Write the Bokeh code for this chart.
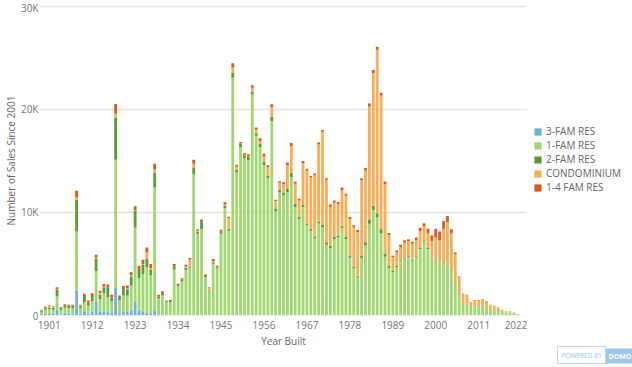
from bokeh.plotting import figure
from bokeh.layouts import row
from bokeh.models import (Range1d, FixedTicker, Legend, LegendItem, Label,
                          ColumnDataSource)
from bokeh.embed import file_html
from bokeh.resources import INLINE

# ---------------- data (sales counts in thousands) ----------------
years = list(range(1899, 2024))

fam3_res = [
    0.12, 0.15, 0.15, 0.15, 0.55, 0.10, 0.30, 0.20, 0.20, 2.40,
    0.20, 0.40, 0.20, 0.35, 1.30, 0.40, 0.45, 0.40, 0.30, 2.70,
    0.30, 0.35, 0.35, 0.50, 1.30, 0.50, 0.40, 0.30, 0.20, 0.50,
    0.05, 0.05, 0.02, 0.02, 0.05, 0.02, 0.02, 0.02, 0.02, 0.10,
    0.02, 0.05, 0.02, 0.02, 0.02, 0.02, 0.02, 0.02, 0.02, 0.05,
    0.02, 0.02, 0.02, 0.02, 0.02, 0.02, 0.02, 0.02, 0.02, 0.02,
    0.02, 0.02, 0.02, 0.02, 0.02, 0.02, 0.02, 0.02, 0.02, 0.02,
    0.02, 0.02, 0.02, 0.00, 0.00, 0.00, 0.00, 0.00, 0.00, 0.00,
    0.00, 0.00, 0.00, 0.00, 0.00, 0.00, 0.00, 0.00, 0.00, 0.00,
    0.00, 0.00, 0.00, 0.00, 0.00, 0.00, 0.00, 0.00, 0.00, 0.00,
    0.00, 0.00, 0.00, 0.00, 0.00, 0.00, 0.00, 0.00, 0.00, 0.00,
    0.00, 0.00, 0.00, 0.00, 0.00, 0.00, 0.00, 0.00, 0.00, 0.00,
    0.00, 0.00, 0.00, 0.00, 0.00,
]

fam1_res = [
    0.25, 0.45, 0.45, 0.40, 1.30, 0.45, 0.45, 0.50, 0.50, 5.75,
    0.50, 0.90, 0.75, 1.05, 3.00, 1.20, 1.70, 1.40, 1.10, 12.40,
    1.20, 1.60, 1.60, 2.40, 7.20, 3.10, 3.60, 4.40, 3.70, 11.90,
    1.60, 1.90, 1.25, 1.30, 4.40, 2.80, 3.30, 4.40, 4.60, 13.60,
    7.90, 8.30, 3.70, 2.30, 5.00, 4.50, 7.90, 10.40, 8.20, 23.00,
    13.85, 16.30, 15.20, 15.05, 21.40, 17.40, 16.30, 14.55, 13.30, 18.80,
    10.10, 11.90, 11.65, 11.95, 13.40, 10.50, 9.30, 10.50, 8.75, 8.20,
    7.45, 8.90, 8.50, 6.85, 6.55, 7.40, 7.55, 8.50, 7.40, 5.60,
    4.55, 3.65, 5.60, 6.80, 8.90, 10.20, 9.50, 7.95, 5.70, 4.60,
    4.20, 4.70, 5.25, 5.50, 5.70, 5.30, 5.65, 6.45, 7.20, 6.45,
    5.70, 5.30, 5.15, 5.05, 4.90, 4.40, 3.20, 2.10, 1.10, 1.10,
    0.75, 0.90, 0.90, 0.95, 0.75, 0.60, 0.50, 0.45, 0.32, 0.28,
    0.28, 0.20, 0.10, 0.04, 0.02,
]

fam2_res = [
    0.12, 0.20, 0.15, 0.22, 0.65, 0.15, 0.25, 0.25, 0.25, 3.10,
    0.20, 0.60, 0.30, 0.50, 1.20, 0.40, 0.60, 0.90, 0.35, 4.05,
    0.30, 0.60, 0.60, 0.90, 1.65, 0.80, 0.90, 0.80, 0.50, 1.45,
    0.20, 0.20, 0.10, 0.08, 0.30, 0.10, 0.15, 0.20, 0.10, 0.60,
    0.20, 0.70, 0.10, 0.05, 0.15, 0.10, 0.20, 0.20, 0.20, 0.50,
    0.25, 0.30, 0.25, 0.30, 0.30, 0.25, 0.30, 0.30, 0.25, 0.45,
    0.25, 0.30, 0.25, 0.30, 0.40, 0.30, 0.25, 0.25, 0.15, 0.20,
    0.15, 0.20, 0.25, 0.25, 0.20, 0.20, 0.20, 0.20, 0.20, 0.20,
    0.15, 0.15, 0.20, 0.30, 0.40, 0.45, 0.40, 0.40, 0.30, 0.25,
    0.15, 0.10, 0.10, 0.10, 0.10, 0.10, 0.10, 0.10, 0.10, 0.10,
    0.05, 0.05, 0.05, 0.05, 0.05, 0.05, 0.05, 0.05, 0.05, 0.05,
    0.05, 0.05, 0.05, 0.05, 0.05, 0.05, 0.05, 0.05, 0.03, 0.02,
    0.02, 0.02, 0.02, 0.00, 0.00,
]

condominium = [
    0.02, 0.02, 0.20, 0.05, 0.05, 0.00, 0.00, 0.00, 0.00, 0.20,
    0.05, 0.00, 0.00, 0.00, 0.10, 0.20, 0.05, 0.00, 0.00, 0.40,
    0.00, 0.00, 0.10, 0.10, 0.05, 0.00, 0.10, 0.60, 0.20, 0.30,
    0.00, 0.00, 0.00, 0.00, 0.00, 0.00, 0.00, 0.10, 0.70, 0.40,
    0.10, 0.00, 0.00, 0.35, 0.10, 0.05, 0.00, 0.15, 1.00, 0.50,
    0.30, 0.05, 0.05, 0.05, 0.35, 0.35, 0.30, 0.55, 0.80, 0.95,
    0.70, 0.65, 0.80, 2.30, 2.60, 1.95, 1.60, 4.00, 5.10, 4.95,
    6.00, 7.45, 9.05, 6.05, 3.80, 3.35, 3.05, 3.45, 4.00, 3.55,
    3.85, 4.30, 7.30, 6.95, 10.95, 12.85, 15.85, 12.95, 6.75, 2.95,
    1.30, 1.30, 1.30, 1.50, 1.40, 1.55, 1.55, 1.65, 1.35, 1.45,
    1.45, 2.20, 2.10, 3.30, 4.10, 3.50, 2.70, 1.60, 0.93, 0.83,
    0.48, 0.53, 0.53, 0.58, 0.58, 0.40, 0.40, 0.30, 0.20, 0.10,
    0.10, 0.08, 0.03, 0.01, 0.00,
]

fam1_4_res = [
    0.04, 0.05, 0.05, 0.05, 0.20, 0.10, 0.10, 0.10, 0.10, 0.65,
    0.10, 0.20, 0.20, 0.25, 0.30, 0.20, 0.25, 0.30, 0.25, 0.95,
    0.15, 0.30, 0.25, 0.30, 0.40, 0.40, 0.40, 0.50, 0.40, 0.55,
    0.15, 0.20, 0.08, 0.10, 0.25, 0.15, 0.15, 0.20, 0.15, 0.40,
    0.15, 0.25, 0.15, 0.05, 0.20, 0.15, 0.20, 0.20, 0.15, 0.40,
    0.20, 0.15, 0.20, 0.20, 0.25, 0.20, 0.25, 0.25, 0.20, 0.25,
    0.15, 0.15, 0.20, 0.25, 0.30, 0.20, 0.15, 0.20, 0.20, 0.15,
    0.15, 0.20, 0.15, 0.15, 0.20, 0.20, 0.20, 0.25, 0.20, 0.20,
    0.20, 0.20, 0.20, 0.25, 0.30, 0.30, 0.30, 0.30, 0.25, 0.20,
    0.15, 0.20, 0.20, 0.20, 0.20, 0.20, 0.25, 0.30, 0.30, 0.40,
    0.55, 0.85, 0.85, 0.75, 0.60, 0.40, 0.15, 0.05, 0.02, 0.02,
    0.02, 0.02, 0.02, 0.02, 0.02, 0.00, 0.00, 0.00, 0.00, 0.00,
    0.00, 0.00, 0.00, 0.00, 0.00,
]

series_names = ["3-FAM RES", "1-FAM RES", "2-FAM RES", "CONDOMINIUM", "1-4 FAM RES"]
series_colors = ["#73B0D7", "#A0D771", "#559E38", "#FBAD56", "#E45621"]
x_ticks = [1901, 1912, 1923, 1934, 1945, 1956, 1967, 1978, 1989, 2000, 2011, 2022]
y_ticks = [0, 10, 20, 30]
y_tick_labels = ["0", "10K", "20K", "30K"]

FONT = "Open Sans"
GRAY = "#777777"

source = ColumnDataSource(dict(
    year=years, s0=fam3_res, s1=fam1_res, s2=fam2_res, s3=condominium, s4=fam1_4_res))
keys = ["s0", "s1", "s2", "s3", "s4"]

# ---------------- main chart ----------------
p = figure(width=527, height=367, output_backend="svg", toolbar_location=None,
           x_range=Range1d(1898.5, 2023.5), y_range=Range1d(0, 30.05),
           min_border_left=0, min_border_right=0, min_border_top=5,
           min_border_bottom=52)
p.outline_line_color = None
p.background_fill_color = "white"
p.border_fill_color = "white"

p.vbar_stack(keys, x="year", width=0.72, source=source,
             fill_color=series_colors, line_color=None)

p.xaxis.ticker = FixedTicker(ticks=x_ticks)
p.yaxis.ticker = FixedTicker(ticks=y_ticks)
p.yaxis.major_label_overrides = {t: l for t, l in zip(y_ticks, y_tick_labels)}
for ax in (p.xaxis[0], p.yaxis[0]):
    ax.axis_line_color = None
    ax.major_tick_line_color = None
    ax.minor_tick_line_color = None
    ax.major_tick_out = 0
    ax.major_tick_in = 0
    ax.major_label_text_font = FONT
    ax.major_label_text_font_size = "10px"
    ax.major_label_text_color = GRAY
    ax.axis_label_text_font = FONT
    ax.axis_label_text_font_size = "10px"
    ax.axis_label_text_color = "#666666"
    ax.axis_label_text_font_style = "normal"
p.xaxis.axis_label = "Year Built"
p.xaxis.major_label_standoff = 5
p.xaxis.axis_label_standoff = 2
p.yaxis.axis_label = "Number of Sales Since 2001"
p.yaxis.major_label_standoff = 1
p.yaxis.axis_label_standoff = 0

p.xgrid.grid_line_color = None
p.ygrid.grid_line_color = "#E4E4E4"
p.ygrid.grid_line_width = 1.5

# ---------------- legend panel (right) ----------------
side = figure(width=105, height=367, output_backend="svg", toolbar_location=None,
              x_range=Range1d(0, 1), y_range=Range1d(0, 1),
              x_axis_location=None, y_axis_location=None,
              min_border_left=0, min_border_right=0, min_border_top=0,
              min_border_bottom=0)
side.outline_line_color = None
side.xgrid.grid_line_color = None
side.ygrid.grid_line_color = None
side.background_fill_color = "white"
side.border_fill_color = "white"

# zero-size swatch renderers that only feed the legend
swatches = [side.quad(left=[0], right=[0], top=[0], bottom=[0],
                      fill_color=c, line_color=None) for c in series_colors]
items = [LegendItem(label=n, renderers=[r]) for n, r in zip(series_names, swatches)]
legend = Legend(items=items, location=(6, 121), orientation="vertical",
                label_text_font=FONT, label_text_font_size="10px",
                label_text_color="#666666", glyph_width=9, glyph_height=9,
                label_standoff=4, label_height=10, spacing=0, padding=0,
                margin=0, border_line_color=None, background_fill_alpha=0)
side.add_layout(legend, "center")

# "Powered by" badge in the panel below the side frame
side.add_layout(Label(x=30, y=-31, x_units="screen", y_units="screen",
                      text="POWERED BY", text_baseline="bottom",
                      text_font=FONT, text_font_size="6.5px", text_color="#9CC3E6",
                      border_line_color="#BFD9EF", background_fill_color="white",
                      padding=4), "below")
side.add_layout(Label(x=78, y=-16, x_units="screen", y_units="screen",
                      text="DOMO", text_baseline="bottom",
                      text_font=FONT, text_font_size="7px", text_color="white",
                      text_font_style="bold",
                      background_fill_color="#9CC6EA", padding=3), "below")

layout = row(p, side)
open("out.html", "w").write(file_html(layout, INLINE))
